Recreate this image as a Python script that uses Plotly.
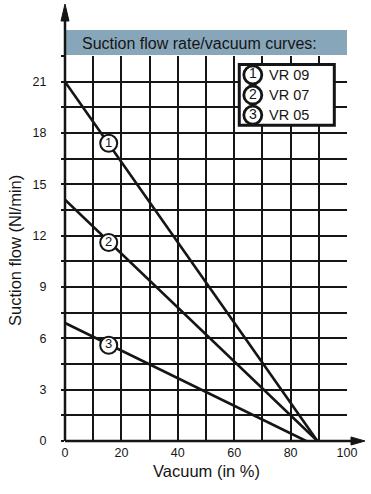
import plotly.graph_objects as go

# ---- data ----
series_names = ["VR 09", "VR 07", "VR 05"]
series_ids = ["1", "2", "3"]
vacuum_pts = [[0, 89.5], [0, 89.5], [0, 85.5]]
flow_pts = [[21.0, 0.0], [14.1, 0.0], [6.9, 0.0]]
label_x = [15.5, 15.5, 15.5]
label_y = [17.4, 11.6, 5.6]

x_grid = [0, 10, 20, 30, 40, 50, 60, 70, 80, 90, 100]
x_text = ["0", "", "20", "", "40", "", "60", "", "80", "", "100"]
y_grid = [0, 1.5, 3, 4.5, 6, 7.5, 9, 10.5, 12, 13.5, 15, 16.5, 18, 19.5, 21, 22.5]
y_text = ["0", "", "3", "", "6", "", "9", "", "12", "", "15", "", "18", "", "21", ""]

title_text = "Suction flow rate/vacuum curves:"
x_title = "Vacuum (in %)"
y_title = "Suction flow (Nl/min)"

FONT = "Liberation Sans, Arial, sans-serif"
INK = "#151515"

fig = go.Figure()
for i in range(3):
    fig.add_trace(go.Scatter(x=vacuum_pts[i], y=flow_pts[i], mode="lines",
                             line=dict(color=INK, width=2.6), showlegend=False,
                             hoverinfo="skip"))
# circled numbers on curves
fig.add_trace(go.Scatter(x=label_x, y=label_y, mode="markers+text", text=series_ids,
                         textposition="middle center",
                         textfont=dict(family=FONT, size=13, color=INK),
                         marker=dict(size=17, color="white", line=dict(color=INK, width=2)),
                         showlegend=False, hoverinfo="skip", cliponaxis=False))

# legend box (data coordinates)
leg_x0, leg_x1, leg_y0, leg_y1 = 61.8, 95.5, 18.45, 22.0
leg_row_y = [21.4, 20.22, 19.05]
leg_marker_x = 66.6
fig.add_shape(type="rect", x0=leg_x0, x1=leg_x1, y0=leg_y0, y1=leg_y1,
              fillcolor="white", line=dict(color=INK, width=3), layer="between")
fig.add_trace(go.Scatter(x=[leg_marker_x] * 3, y=leg_row_y, mode="markers+text",
                         text=series_ids, textposition="middle center",
                         textfont=dict(family=FONT, size=14, color=INK),
                         marker=dict(size=18, color="white", line=dict(color=INK, width=2.8)),
                         showlegend=False, hoverinfo="skip"))
for name, yy in zip(series_names, leg_row_y):
    fig.add_annotation(x=71.6, y=yy, text=name, showarrow=False, xanchor="left",
                       yanchor="middle", font=dict(family=FONT, size=14.5, color=INK))

# header band above plot
H = 385.0
W = 282.0
fig.add_shape(type="rect", xref="paper", yref="paper", x0=0, x1=1,
              y0=1 + 1 / H, y1=1 + 26 / H, fillcolor="#88a6b9", line=dict(width=0),
              layer="below")
fig.add_annotation(xref="paper", yref="paper", x=(80 - 65) / W, y=1 + 13 / H, text=title_text,
                   showarrow=False, xanchor="left", yanchor="middle",
                   font=dict(family=FONT, size=16, color=INK))

# axis arrows
fig.add_shape(type="line", xref="paper", yref="paper", x0=0, x1=0, y0=0, y1=422 / H,
              line=dict(color=INK, width=2.5))
fig.add_shape(type="path", xref="paper", yref="paper",
              path=f"M {-4/W} {420/H} L {4/W} {420/H} L 0 {437/H} Z",
              fillcolor=INK, line=dict(color=INK, width=1))
fig.add_shape(type="line", xref="paper", yref="paper", x0=0, x1=1 + 8 / W, y0=0, y1=0,
              line=dict(color=INK, width=2.5))
fig.add_shape(type="path", xref="paper", yref="paper",
              path=f"M {1+4/W} {4/H} L {1+4/W} {-4/H} L {1+18/W} 0 Z",
              fillcolor=INK, line=dict(color=INK, width=1))

# axis titles
fig.add_annotation(xref="paper", yref="paper", x=(206 - 65) / W, y=-(471 - 441) / H,
                   text=x_title, showarrow=False, xanchor="center", yanchor="middle",
                   font=dict(family=FONT, size=16.5, color=INK))
fig.add_annotation(xref="paper", yref="paper", x=-(65 - 15) / W, y=(441 - 251) / H,
                   text=y_title, showarrow=False, textangle=-90, xanchor="center",
                   yanchor="middle", font=dict(family=FONT, size=16.5, color=INK))

fig.update_xaxes(range=[0, 100], tickvals=x_grid, ticktext=x_text, showgrid=True,
                 gridcolor=INK, gridwidth=2, zeroline=False, showline=False,
                 ticks="", ticklabelstandoff=2,
                 tickfont=dict(family=FONT, size=12.5, color=INK), fixedrange=True)
fig.update_yaxes(range=[0, 22.5], tickvals=y_grid, ticktext=y_text, showgrid=True,
                 gridcolor=INK, gridwidth=2, zeroline=False, showline=False,
                 ticks="outside", ticklen=3, tickcolor=INK, tickwidth=1.5,
                 ticklabelstandoff=12,
                 tickfont=dict(family=FONT, size=12.5, color=INK), fixedrange=True)

fig.update_layout(width=371, height=494, margin=dict(l=65, r=24, t=56, b=53),
                  paper_bgcolor="white", plot_bgcolor="white", showlegend=False)

fig.write_html("out.html", config={"displayModeBar": False})
